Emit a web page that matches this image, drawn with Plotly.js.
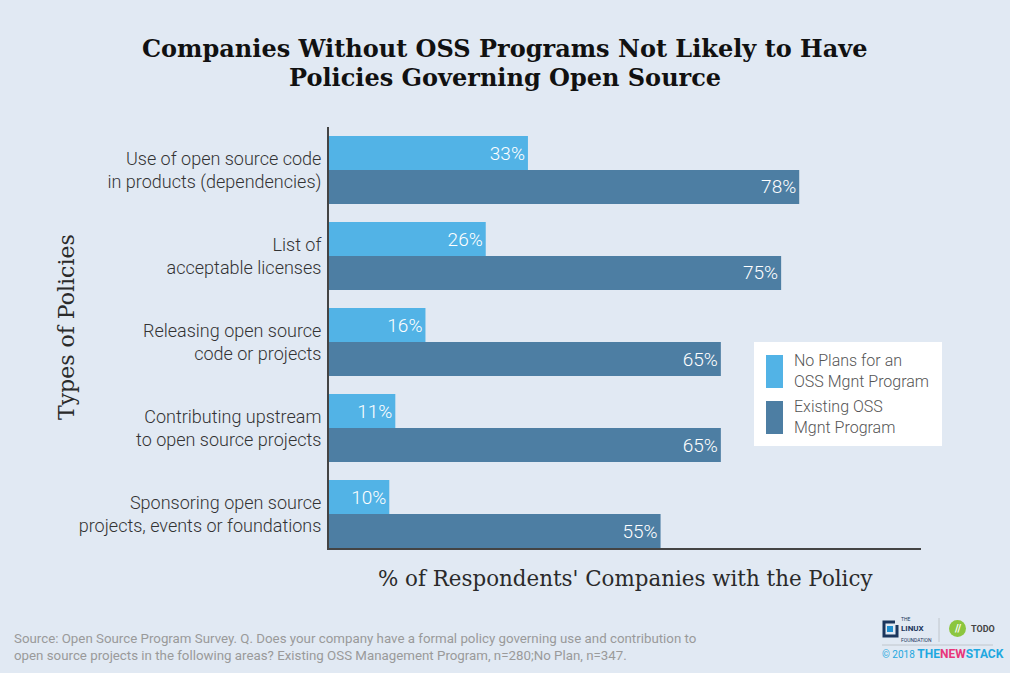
<!DOCTYPE html>
<html><head><meta charset="utf-8">
<script src="https://cdn.plot.ly/plotly-3.0.1.min.js"></script>
<style>html,body{margin:0;padding:0;background:#e1e9f3;}#chart{width:1010px;height:673px;}</style>
</head><body><div id="chart"></div>
<script>
const titleLines = ["Companies Without OSS Programs Not Likely to Have", "Policies Governing Open Source"];
const categories = [
  "Use of open source code<br>in products (dependencies)",
  "List of<br>acceptable licenses",
  "Releasing open source<br>code or projects",
  "Contributing upstream<br>to open source projects",
  "Sponsoring open source<br>projects, events or foundations"
];
const seriesNames = ["No Plans for an<br>OSS Mgnt Program", "Existing OSS<br>Mgnt Program"];
const noPlans = [33, 26, 16, 11, 10];
const existing = [78, 75, 65, 65, 55];
const xTitle = "% of Respondents' Companies with the Policy";
const yTitle = "Types of Policies";
const sourceText = "Source: Open Source Program Survey. Q. Does your company have a formal policy governing use and contribution to<br>open source projects in the following areas? Existing OSS Management Program, n=280;No Plan, n=347.";
const colors = ["#52b3e6", "#4d7ea3"];

const common = {
  type: 'bar', orientation: 'h', y: categories,
  texttemplate: '%{x}%', textposition: 'inside', insidetextanchor: 'end',
  textfont: {family: 'Roboto', size: 19, color: '#ffffff', weight: 300},
  hoverinfo: 'skip', showlegend: false
};
const traces = [
  Object.assign({}, common, {x: noPlans, name: seriesNames[0], marker: {color: colors[0]}}),
  Object.assign({}, common, {x: existing, name: seriesNames[1], marker: {color: colors[1]}})
];

// paper coords: x = (px-329)/592, y = (548-py)/421
function px(x){return (x-329)/592;}
function py(y){return (548-y)/421;}

const shapes = [
  {type:'rect', xref:'paper', yref:'paper', x0:px(754), x1:px(942), y0:py(446), y1:py(342), fillcolor:'#ffffff', line:{width:0}},
  {type:'rect', xref:'paper', yref:'paper', x0:px(766), x1:px(783), y0:py(388), y1:py(355), fillcolor:colors[0], line:{width:0}},
  {type:'rect', xref:'paper', yref:'paper', x0:px(766), x1:px(783), y0:py(434), y1:py(401), fillcolor:colors[1], line:{width:0}},
  // Linux Foundation icon
  {type:'path', xref:'paper', yref:'paper', path:`M ${px(895)} ${py(622)} L ${px(884)} ${py(622)} L ${px(884)} ${py(636)} L ${px(897)} ${py(636)} L ${px(897)} ${py(625)}`, line:{color:'#1b365d', width:3}},
  {type:'rect', xref:'paper', yref:'paper', x0:px(887), x1:px(893), y0:py(632), y1:py(626), fillcolor:'#1f8fd0', line:{width:0}},
  {type:'line', xref:'paper', yref:'paper', x0:px(939), x1:px(939), y0:py(618), y1:py(642), line:{color:'#c0c6cc', width:1}},
  {type:'line', xref:'paper', yref:'paper', x0:px(882), x1:px(993), y0:py(645), y1:py(645), line:{color:'#c0c6cc', width:1}},
  {type:'circle', xref:'paper', yref:'paper', x0:px(949), x1:px(966), y0:py(637), y1:py(620), fillcolor:'#8cc63f', line:{width:0}}
];

const annotations = [
  {xref:'paper', yref:'paper', x:px(505), y:py(48), xanchor:'center', yanchor:'middle', showarrow:false,
   text:'<b>'+titleLines[0]+'</b>', font:{family:'DejaVu Serif', size:24, color:'#111111'}},
  {xref:'paper', yref:'paper', x:px(505), y:py(77), xanchor:'center', yanchor:'middle', showarrow:false,
   text:'<b>'+titleLines[1]+'</b>', font:{family:'DejaVu Serif', size:24, color:'#111111'}},
  {xref:'paper', yref:'paper', x:0.5, y:py(578), xanchor:'center', yanchor:'middle', showarrow:false,
   text:xTitle, font:{family:'DejaVu Serif', size:21.4, color:'#2a2a2a', weight:300}},
  {xref:'paper', yref:'paper', x:px(66), y:py(327), xanchor:'center', yanchor:'middle', showarrow:false, textangle:-90,
   text:yTitle, font:{family:'DejaVu Serif', size:22, color:'#2a2a2a', weight:300}},
  {xref:'paper', yref:'paper', x:px(792), y:py(371), xanchor:'left', yanchor:'middle', align:'left', showarrow:false,
   text: seriesNames[0], font:{family:'Roboto', size:16, color:'#555555', weight:300}},
  {xref:'paper', yref:'paper', x:px(792), y:py(417), xanchor:'left', yanchor:'middle', align:'left', showarrow:false,
   text: seriesNames[1], font:{family:'Roboto', size:16, color:'#555555', weight:300}},
  {xref:'paper', yref:'paper', x:px(12), y:py(647), xanchor:'left', yanchor:'middle', align:'left', showarrow:false,
   text: sourceText, font:{family:'Roboto', size:13.3, color:'#9a9a9a'}},
  {xref:'paper', yref:'paper', x:px(899), y:py(629), xanchor:'left', yanchor:'middle', align:'left', showarrow:false,
   text: "<span style='font-size:5px'>THE</span><br><b>LINUX</b><br><span style='font-size:5px'>FOUNDATION</span>",
   font:{family:'Roboto', size:8, color:'#1b365d'}},
  {xref:'paper', yref:'paper', x:px(957.5), y:py(628.5), xanchor:'center', yanchor:'middle', showarrow:false,
   text: "<b>//</b>", font:{family:'Roboto', size:10, color:'#ffffff'}},
  {xref:'paper', yref:'paper', x:px(969), y:py(629), xanchor:'left', yanchor:'middle', showarrow:false,
   text: "<b>TODO</b>", font:{family:'Roboto', size:9, color:'#444444'}},
  {xref:'paper', yref:'paper', x:px(880), y:py(654), xanchor:'left', yanchor:'middle', showarrow:false,
   text: "<span style='font-size:10px;color:#1fa8e0'>© 2018 </span><b><span style='color:#1fa8e0'>THE</span><span style='color:#e8367a'>NEW</span><span style='color:#1fa8e0'>STACK</span></b>",
   font:{family:'Roboto', size:12, color:'#1fa8e0'}}
];

const layout = {
  width: 1010, height: 673,
  paper_bgcolor: '#e1e9f3', plot_bgcolor: '#e1e9f3',
  margin: {l: 329, r: 89, t: 127, b: 125},
  barmode: 'group', bargap: 0.21, bargroupgap: 0,
  xaxis: {range: [0, 98.2], showticklabels: false, showgrid: false, zeroline: false, ticks: '',
    showline: true, linecolor: '#444444', linewidth: 2, fixedrange: true},
  yaxis: {type: 'category', range: [4.395, -0.5], showgrid: false, zeroline: false, ticks: '',
    showline: true, linecolor: '#444444', linewidth: 2, fixedrange: true,
    tickfont: {family: 'Roboto', size: 18, color: '#333333', weight: 300},
    ticklabelstandoff: 2},
  shapes: shapes, annotations: annotations
};

Plotly.newPlot('chart', traces, layout, {displayModeBar: false, staticPlot: true});
</script></body></html>
